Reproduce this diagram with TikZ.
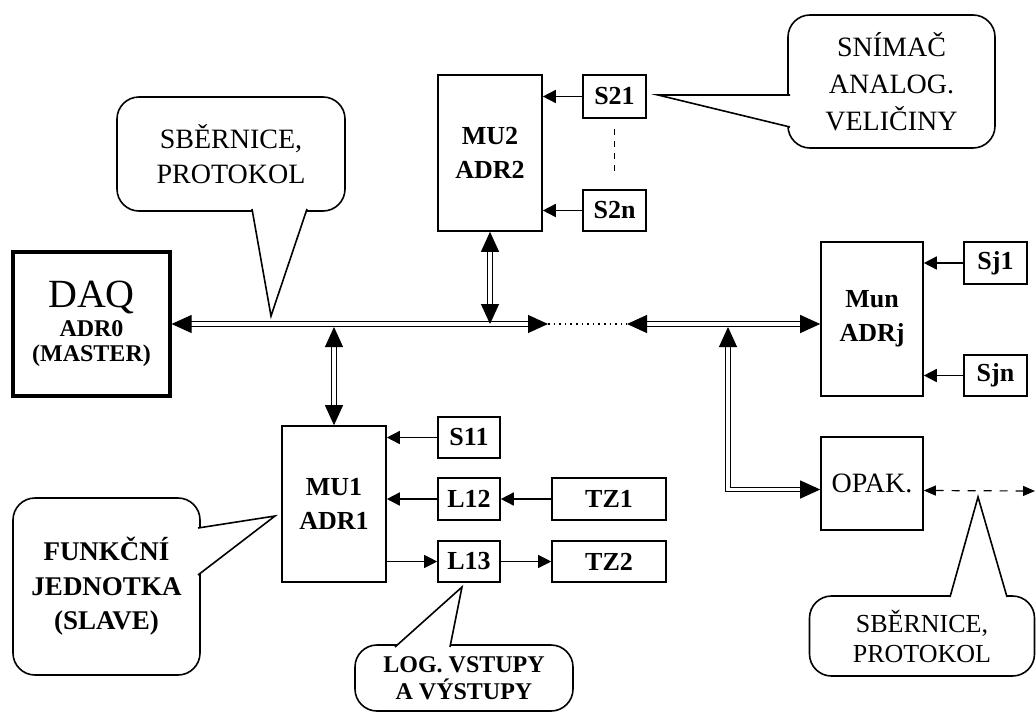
\documentclass[tikz,border=0pt]{standalone}
\usepackage{fontspec}
\setmainfont{Liberation Serif}
\usetikzlibrary{arrows.meta}
% white wedge over the frame of a note, then its two edges
\newcommand{\notetip}[3]{\fill[white] #1 -- #2 -- #3 -- cycle;
	\draw[line width=0.8pt] #1 -- #2 -- #3;}

\begin{document}
\begin{tikzpicture}[x=0.5pt,y=-0.5pt,
	box/.style={draw,line width=0.8pt,inner sep=0pt,align=center,font=\fontsize{13}{17}\selectfont\bfseries},
	note/.style={draw,line width=0.8pt,rounded corners=11pt,inner sep=0pt,align=center,font=\fontsize{14}{17.5}\selectfont},
	bus/.style={double,double distance=1.6pt,line width=0.5pt},
	wire/.style={line width=0.8pt},
	bustip/.tip={Triangle[length=10pt,width=9pt]},
	sigtip/.tip={Triangle[length=6.5pt,width=6.5pt]},
	dashtip/.tip={Triangle[length=6pt,width=5pt]}]
	\useasboundingbox (0,0) rectangle (1036,712);
	\node[box,line width=1.6pt,minimum width=78.5pt,minimum height=72pt,font=\fontsize{12}{12.5}\selectfont] (daq) at (91.5,324)
		{{\fontsize{20}{20}\selectfont DAQ}\\[2pt]\textbf{ADR0}\\\textbf{(MASTER)}};
	\node[box,minimum width=52pt,minimum height=78pt] (mu2) at (490,153) {MU2\\ADR2};
	\node[box,minimum width=31.5pt,minimum height=21.5pt] (s21) at (614.5,96.5) {S21};
	\node[box,minimum width=31.5pt,minimum height=20.5pt] (s2n) at (614.5,210.5) {S2n};
	\node[box,minimum width=51pt,minimum height=77pt] (mun) at (872,319) {Mun\\ADRj};
	\node[box,minimum width=31.5pt,minimum height=21pt] (sj1) at (995.5,263) {Sj1};
	\node[box,minimum width=31.5pt,minimum height=20.5pt] (sjn) at (995.5,375.5) {Sjn};
	\node[box,minimum width=51pt,minimum height=46.5pt,font=\fontsize{14}{17}\selectfont] (opak) at (872,483.5) {OPAK.};
	\node[box,minimum width=52pt,minimum height=78pt] (mu1) at (334,504) {MU1\\ADR1};
	\node[box,minimum width=31pt,minimum height=20.5pt] (s11) at (469,437.5) {S11};
	\node[box,minimum width=31pt,minimum height=21pt] (l12) at (469,499) {L12};
	\node[box,minimum width=31pt,minimum height=20.5pt] (l13) at (469,561.5) {L13};
	\node[box,minimum width=57pt,minimum height=21pt] (tz1) at (609,499) {TZ1};
	\node[box,minimum width=57pt,minimum height=20.5pt] (tz2) at (609,561.5) {TZ2};
	%
	\coordinate (busA) at (548,324);
	\coordinate (busB) at (627,324);
	\coordinate (tap) at (728,327);
	\coordinate (opakR) at (1035,491);
	%
	\draw[bus,bustip-bustip] (daq.east) -- (busA);
	\draw[wire,dotted] (busA) -- (busB);
	\draw[bus,bustip-bustip] (busB) -- (mun.west |- busB);
	\draw[bus,bustip-bustip] (mu2.south) -- (mu2.south |- busA);
	\draw[bus,bustip-bustip,shorten <=1.5pt] (mu1.north |- busA) -- (mu1.north);
	\draw[bus,bustip-bustip] (tap) |- ([yshift=-3pt]opak.west);
	\draw[line width=0.6pt,dash pattern=on 4pt off 4pt,dashtip-dashtip] ([yshift=-3.5pt]opak.east) -- (opakR);
	%
	\draw[wire,-sigtip] (s21) -- (s21 -| mu2.east);
	\draw[wire,-sigtip] (s2n) -- (s2n -| mu2.east);
	\draw[line width=0.5pt,dashed] ([yshift=-5pt]s21.south) -- ([yshift=7pt]s2n.north);
	\draw[wire,-sigtip] (sj1) -- (sj1 -| mun.east);
	\draw[wire,-sigtip] (sjn) -- (sjn -| mun.east);
	\draw[wire,-sigtip] (s11) -- (s11 -| mu1.east);
	\draw[wire,-sigtip] (l12) -- (l12 -| mu1.east);
	\draw[wire,-sigtip] (tz1) -- (l12);
	\draw[line width=0.5pt,-sigtip] (l13 -| mu1.east) -- (l13);
	\draw[line width=0.5pt,-sigtip] (l13) -- (tz2);
	%
	\node[note,minimum width=114pt,minimum height=57pt] (sbus) at (231,154) {SBĚRNICE,\\PROTOKOL};
	\notetip{(252,209)}{(271,316)}{(307,209)}
	\node[note,minimum width=103.5pt,minimum height=66.5pt,font=\fontsize{14}{18.5}\selectfont] (snimac) at (891.5,81.5) {SNÍMAČ\\ANALOG.\\VELIČINY};
	\notetip{(790,95)}{(658,95)}{(790,127)}
	\node[note,minimum width=93.5pt,minimum height=88.5pt,font=\fontsize{13.5}{17.3}\selectfont\bfseries] (fj) at (106.5,586.5) {FUNKČNÍ\\JEDNOTKA\\(SLAVE)};
	\notetip{(198,528)}{(275,516)}{(198,575)}
	\node[note,minimum width=109pt,minimum height=33pt,font=\fontsize{12}{13.5}\selectfont\bfseries] (logio) at (464,678) {LOG. VSTUPY\\A VÝSTUPY};
	\notetip{(395,647)}{(462,587)}{(450,647)}
	\node[note,minimum width=112.5pt,minimum height=40pt,font=\fontsize{13}{15}\selectfont] (sbus2) at (922,636) {SBĚRNICE,\\PROTOKOL};
	\notetip{(950,597)}{(978,497)}{(1007,597)}
\end{tikzpicture}
\end{document}
